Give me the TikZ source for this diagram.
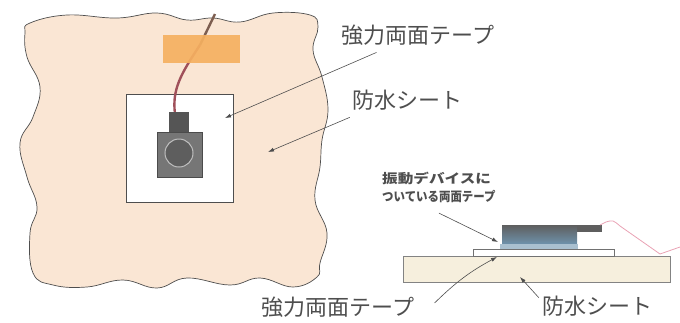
\documentclass[tikz,border=0pt]{standalone}
\usepackage{graphicx}
\usepackage{fontspec}
\newfontfamily\jpfont{Noto Sans CJK JP}
\usetikzlibrary{arrows.meta}

\definecolor{labelgray}{HTML}{4E4E4E}
\definecolor{sheetpeach}{HTML}{FAE6D4}
\definecolor{tapeorange}{HTML}{F5B060}
\definecolor{cablered}{HTML}{A0505A}
\definecolor{cablebrown}{HTML}{7D5E50}
\definecolor{devgray}{HTML}{5E5E5E}
\definecolor{devblue}{HTML}{6F95B0}
\definecolor{basecream}{HTML}{F6EFDD}
\definecolor{cablepink}{HTML}{E9A2B4}

\tikzset{
  outline/.style={draw=labelgray, line width=0.7pt},
  pointer/.style={draw=labelgray, line width=0.6pt, -{Latex[length=6pt,width=4pt]}},
  biglabel/.style={font=\jpfont\fontsize{22}{24}\selectfont},
  smalllabel/.style={font=\jpfont\bfseries\fontsize{13}{18}\selectfont, align=left}
}

\begin{document}
\begin{tikzpicture}[x=1pt, y=-1pt]
    \tikzstyle{every node}=[inner sep=0pt, text=labelgray]
    \useasboundingbox (0,0) rectangle (680,322);

    % top view: sheet of skin
    \draw[outline, fill=sheetpeach] plot[smooth cycle, tension=0.7] coordinates {
      (30,23) (67,15) (117,18) (157,13) (187,20) (213,18) (240,22) (273,13)
      (310,15) (318,27) (313,50) (322,77) (328,110) (322,140) (320,167)
      (315,200) (327,233) (320,263) (317,277) (293,287) (260,278) (230,285)
      (187,278) (157,288) (123,280) (87,287) (53,285) (33,273) (30,233)
      (37,207) (27,177) (20,143) (33,117) (40,87) (27,57) (25,33)};
    \draw[outline, fill=white] (126,94) rectangle (233,202);

    % cable, then the tape over it
    \draw[cablebrown, line width=2.4pt] (215,14) -- (200,45);
    \draw[cablered, line width=2.4pt] (200,45) .. controls (180,75) and (172,90) .. (175,114);
    \fill[tapeorange, opacity=0.92] (163,35) rectangle (240,63);

    % device
    \fill[devgray!90!black] (169,112) rectangle (189,132);
    \draw[draw=devgray!80!black, fill=devgray!85!white, line width=0.6pt] (157,132) rectangle (202,177);
    \draw[draw=devgray!40!white, fill=devgray, line width=1pt] (179,153) circle (14);

    \coordinate (tapein) at (225,118);
    \coordinate (sheetin) at (268,152);

    \node[biglabel] (tapetop) at (418,35) {強力両面テープ};
    \node[biglabel] (sheettop) at (407,100) {防水シート};
    \draw[pointer] ([xshift=35pt,yshift=-7pt]tapetop.south west) -- (tapein);
    \draw[pointer] ([xshift=-2pt,yshift=-7pt]sheettop.south west) -- (sheetin);

    % side view
    \draw[draw=labelgray!70, fill=basecream, line width=0.6pt] (403,256) rectangle (670,282);
    \draw[draw=labelgray!80, fill=white, line width=0.6pt] (473,249) rectangle (614,256);
    \fill[devgray] (502,225) rectangle (602,232);
    \shade[top color=devgray, bottom color=devblue] (502,225) rectangle (577,245);
    \fill[devblue!60!white] (500,244) rectangle (578,249);
    \draw[cablepink, line width=0.8pt] (600,225) -- (606,222) .. controls (613,220) .. (620,226) -- (660,254) -- (680,247);

    \coordinate (devtapept) at (498,242);
    \coordinate (thintapept) at (497,257);
    \coordinate (basept) at (520,277);

    \node[smalllabel, anchor=north west] (devtape) at (382,172)
      {\scalebox{1.2}[1]{振動デバイスに}\\\scalebox{0.88}[1]{ついている両面テープ}};
    \node[biglabel] (tapebot) at (338,307) {強力両面テープ};
    \node[biglabel] (sheetbot) at (597,306) {防水シート};
    \draw[pointer] ([yshift=-10pt]devtape.south) -- (devtapept);
    \draw[pointer] ([xshift=20pt,yshift=4pt]tapebot.east) to[bend left=8] (thintapept);
    \draw[pointer] ([xshift=-3pt,yshift=-2pt]sheetbot.north west) -- (basept);
\end{tikzpicture}
\end{document}
